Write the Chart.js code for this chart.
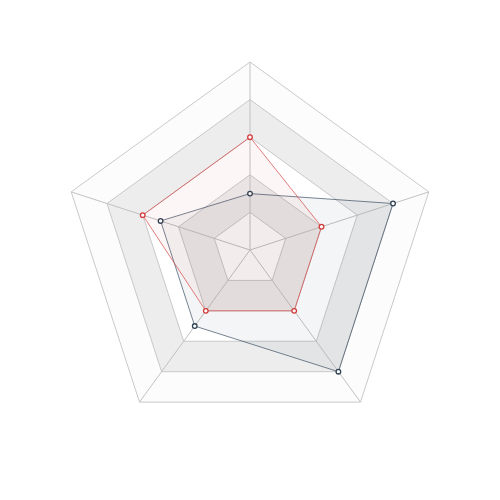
<!DOCTYPE html>
<html>
<head>
<meta charset="utf-8">
<script src="https://cdn.jsdelivr.net/npm/chart.js@4/dist/chart.umd.min.js"></script>
<style>
html,body{margin:0;padding:0;background:#fff;}
#wrap{width:500px;height:500px;}
</style>
</head>
<body>
<div id="wrap"><canvas id="c" width="500" height="500"></canvas></div>
<script>
const categories = ['A', 'B', 'C', 'D', 'E'];
const seriesRed = [60, 40, 40, 40, 60];
const seriesBlue = [30, 80, 80, 50, 50];
const tickValues = [0, 20, 40, 60, 80, 100];

const bandColors = ['#ffffff', '#ededed', '#ffffff', '#ededed', '#fcfcfc'];

const bandPlugin = {
  id: 'bands',
  beforeDraw(chart) {
    const scale = chart.scales.r;
    const ctx = chart.ctx;
    const n = chart.data.labels.length;
    ctx.save();
    for (let b = tickValues.length - 1; b >= 1; b--) {
      const d = scale.getDistanceFromCenterForValue(tickValues[b]);
      ctx.beginPath();
      for (let i = 0; i < n; i++) {
        const p = scale.getPointPosition(i, d);
        if (i === 0) ctx.moveTo(p.x, p.y); else ctx.lineTo(p.x, p.y);
      }
      ctx.closePath();
      ctx.fillStyle = bandColors[b - 1];
      ctx.fill();
    }
    ctx.restore();
  }
};

new Chart(document.getElementById('c'), {
  type: 'radar',
  data: {
    labels: categories,
    datasets: [
      {
        data: seriesRed,
        borderColor: 'rgba(214, 70, 70, 0.7)',
        backgroundColor: 'rgba(214, 70, 70, 0.05)',
        borderWidth: 1,
        pointBackgroundColor: '#ffffff',
        pointBorderColor: '#d43a3a',
        pointBorderWidth: 1.3,
        pointRadius: 2.3,
        fill: true
      },
      {
        data: seriesBlue,
        borderColor: 'rgba(60, 80, 100, 0.7)',
        backgroundColor: 'rgba(60, 85, 110, 0.06)',
        borderWidth: 1,
        pointBackgroundColor: '#ffffff',
        pointBorderColor: '#2e4255',
        pointBorderWidth: 1.3,
        pointRadius: 2.3,
        fill: true
      }
    ]
  },
  options: {
    responsive: false,
    animation: false,
    layout: { padding: 62 },
    plugins: { legend: { display: false }, tooltip: { enabled: false } },
    scales: {
      r: {
        min: 0,
        max: 100,
        ticks: { display: false, stepSize: 20 },
        pointLabels: { display: false },
        grid: { color: '#c9c9c9', lineWidth: 1 },
        angleLines: { color: '#c2c2c2', lineWidth: 1 }
      }
    }
  },
  plugins: [bandPlugin]
});
</script>
</body>
</html>
